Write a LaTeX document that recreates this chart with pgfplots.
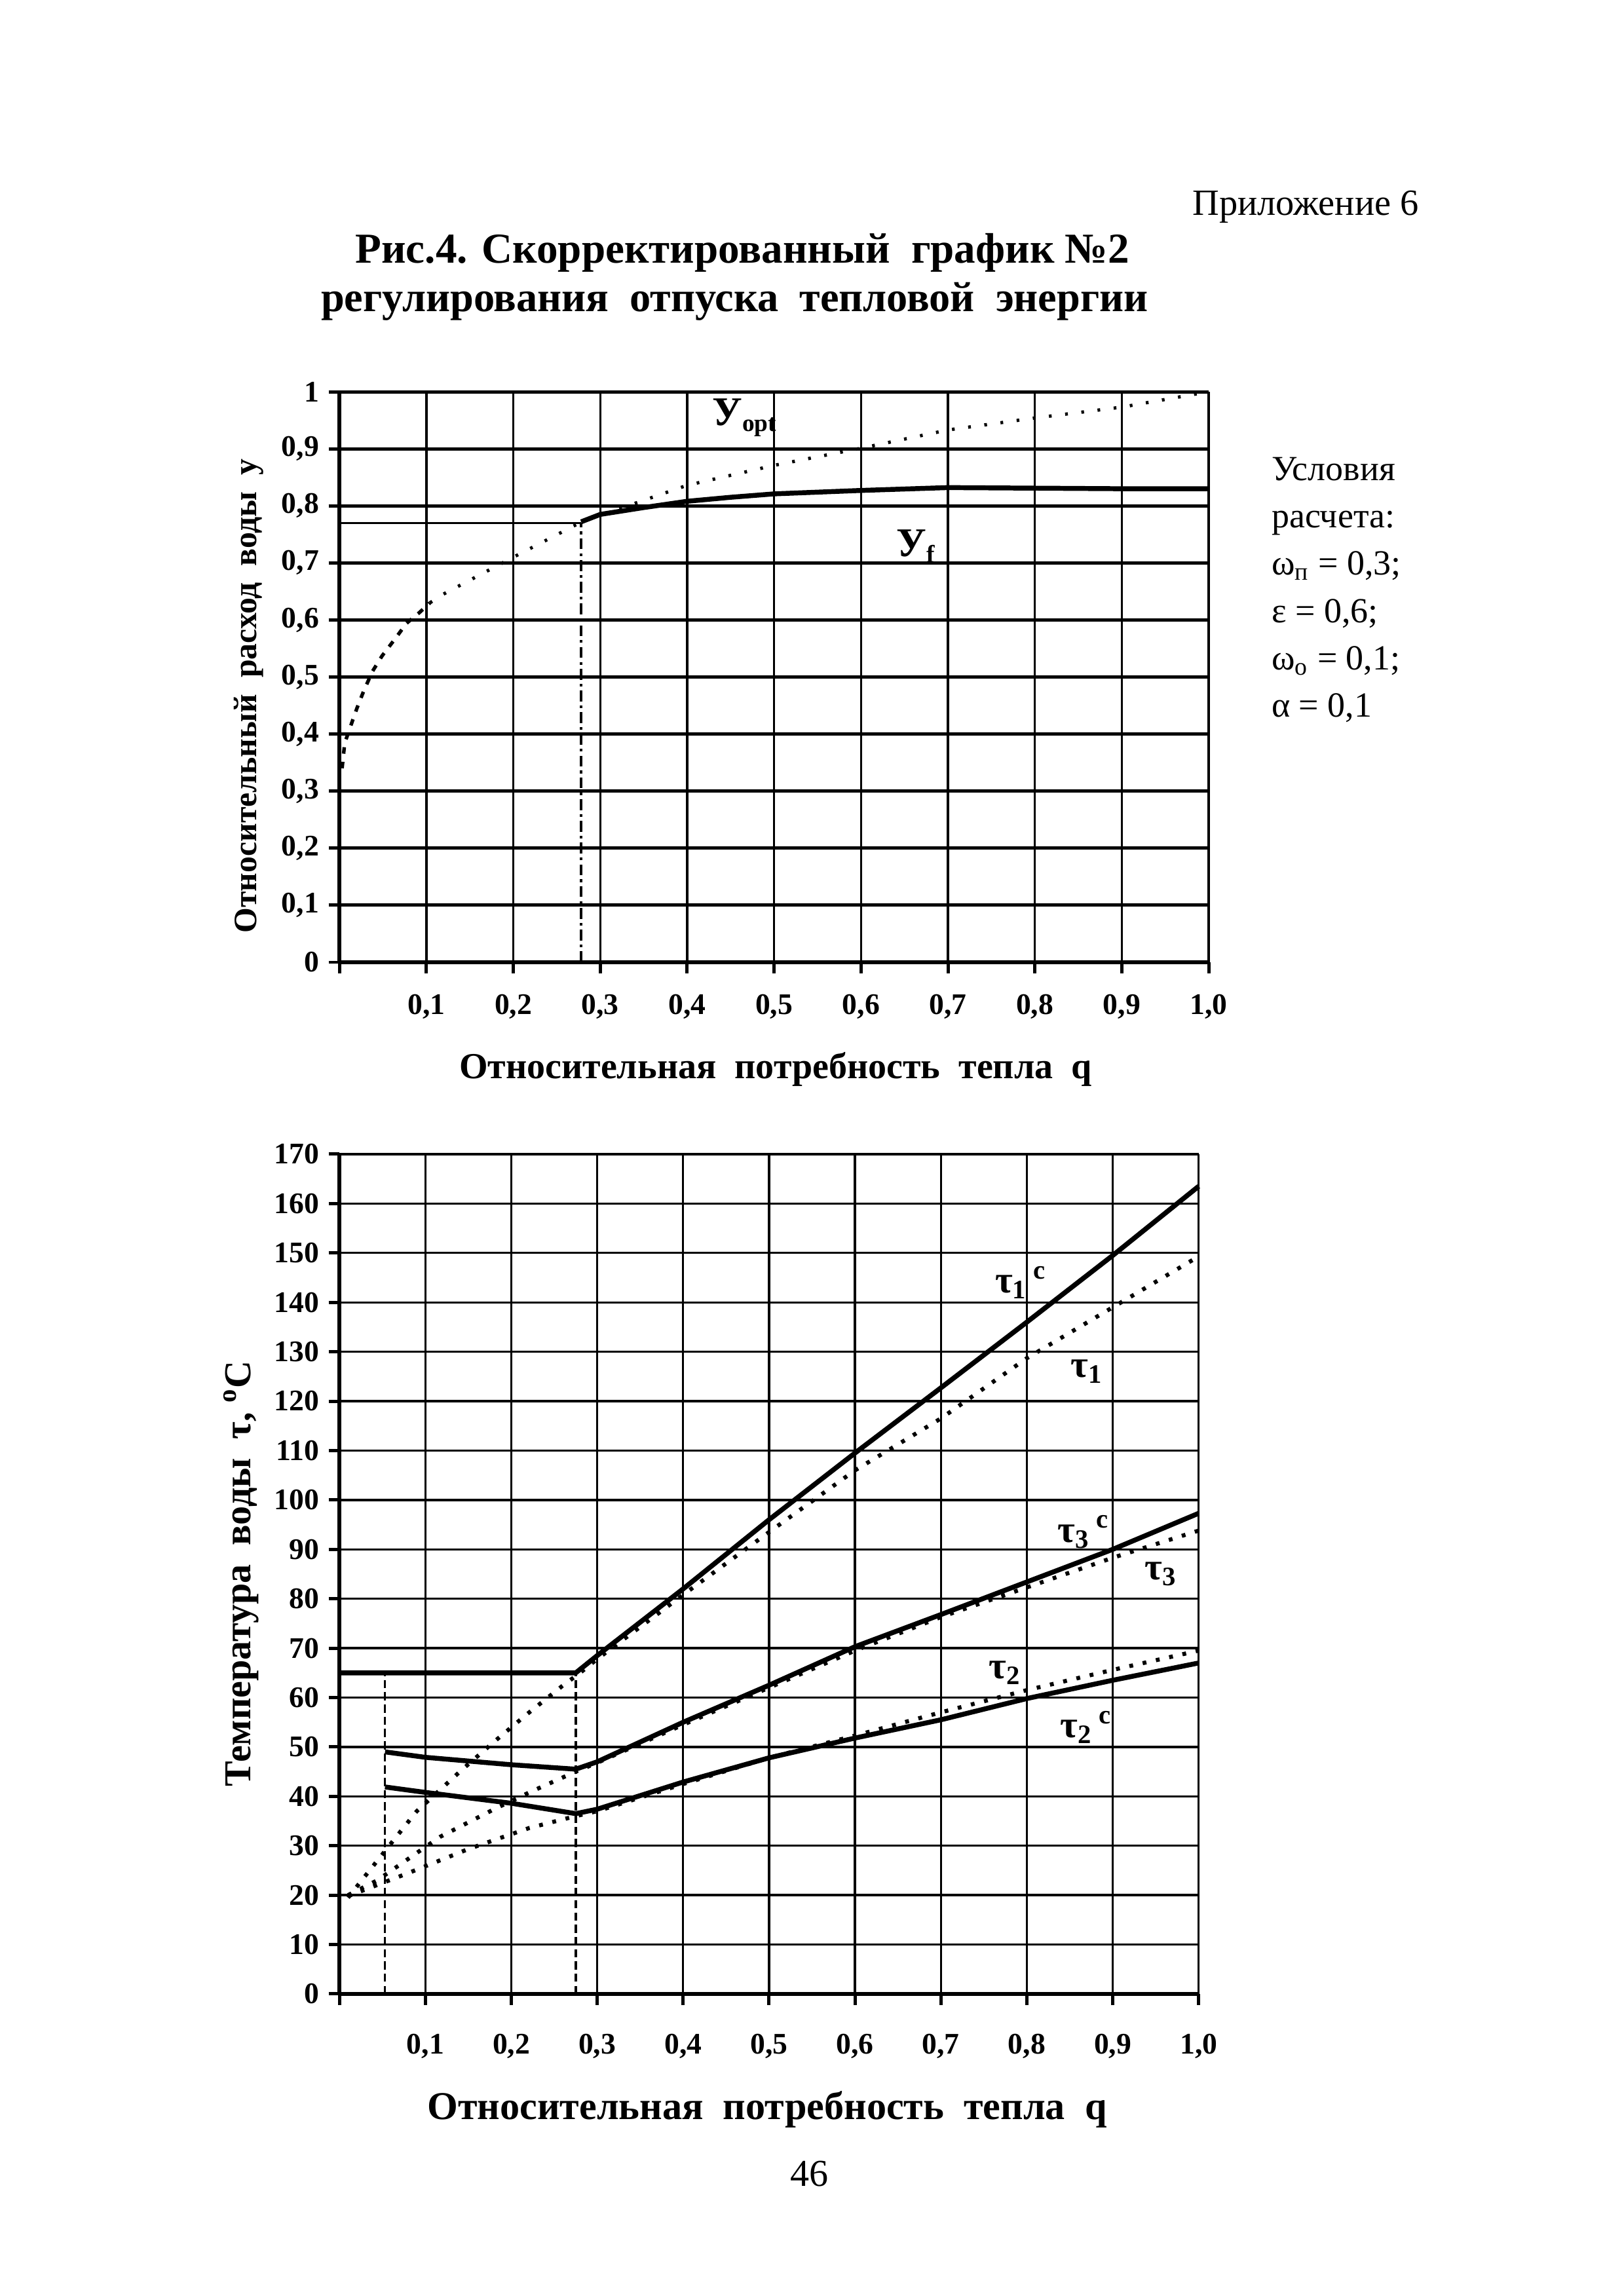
\documentclass[border=0pt]{standalone}
\usepackage{fontspec}
\setmainfont{Liberation Serif}
\usepackage{pgfplots}
\pgfplotsset{compat=1.18}

\pgfplotsset{
  chart/.style={
    scale only axis,
    axis lines=left,
    axis line style={-, line width=1.5pt},
    xmin=0, xmax=1,
    xtick={0,0.1,0.2,0.3,0.4,0.5,0.6,0.7,0.8,0.9,1},
    xticklabels={,{0,1},{0,2},{0,3},{0,4},{0,5},{0,6},{0,7},{0,8},{0,9},{1,0}},
    grid=major,
    major grid style={black, line width=0.8pt},
    tick align=outside,
    major tick length=0.14cm,
    tick style={black, line width=1.2pt},
    ticklabel style={font=\fontsize{11}{13}\selectfont\bfseries},
    /pgf/number format/assume math mode=true,
    clip=false,
  },
  thick curve/.style={black, line width=1.8pt, no markers},
  dot curve/.style={black, line width=1.5pt, dash pattern=on 1.4pt off 3.6pt, no markers},
}

\begin{document}
\begin{tikzpicture}
\path[use as bounding box] (0,0) rectangle (21,-29.641);

% page texts
\node[anchor=base east, font=\fontsize{13.6}{16}\selectfont] at (18.47,-2.78) {Приложение 6};
\node[anchor=base, font=\fontsize{15.7}{19}\selectfont\bfseries] at (9.6,-3.40) {Рис.4. Скорректированный\ \ график №2};
\node[anchor=base, font=\fontsize{15.5}{19}\selectfont\bfseries] at (9.5,-4.03) {регулирования\ \ отпуска\ \ тепловой\ \ энергии};

% top chart
\begin{axis}[chart,
  at={(4.39cm,-12.444cm)}, anchor=south west,
  width=11.24cm, height=7.378cm,
  ymin=0, ymax=1,
  ytick={0,0.1,0.2,0.3,0.4,0.5,0.6,0.7,0.8,0.9,1},
  yticklabels={0,{0,1},{0,2},{0,3},{0,4},{0,5},{0,6},{0,7},{0,8},{0,9},1},
  xticklabel style={yshift=-0.15cm},
  y grid style={line width=1.2pt},
]
% y_opt, dashed part
\addplot[black, line width=1.3pt, dash pattern=on 2.4pt off 3pt, no markers] coordinates {
  (0.003,0.34) (0.006,0.384) (0.014,0.419) (0.02,0.445) (0.028,0.476)
  (0.038,0.51) (0.049,0.537) (0.065,0.569) (0.077,0.594) (0.092,0.613) (0.104,0.63)
};
% y_opt, dotted part
\addplot[black, line width=1.2pt, dash pattern=on 1pt off 5pt, no markers] coordinates {
  (0.104,0.63) (0.118,0.644) (0.2,0.71) (0.28,0.773) (0.4,0.836) (0.5,0.871)
  (0.6,0.901) (0.7,0.933) (0.8,0.954) (0.9,0.973) (1.0,1.0)
};
% y_f
\addplot[black, line width=0.8pt, no markers] coordinates {(0,0.77) (0.278,0.77)};
\addplot[black, line width=0.8pt, dash pattern=on 4pt off 1.5pt on 1pt off 1.5pt, no markers] coordinates {(0.278,0) (0.278,0.77)};
\addplot[thick curve] coordinates {
  (0.278,0.772) (0.3,0.785) (0.35,0.797) (0.4,0.808) (0.45,0.815) (0.5,0.821)
  (0.6,0.827) (0.7,0.832) (0.8,0.831) (0.9,0.83) (1.0,0.83)
};
\node[anchor=west, font=\fontsize{15}{17}\selectfont\bfseries] at (axis cs:0.418,0.955) {У\textsubscript{\fontsize{9}{10}\selectfont opt}};
\node[anchor=west, font=\fontsize{15}{17}\selectfont\bfseries] at (axis cs:0.63,0.73) {У\textsubscript{\fontsize{9}{10}\selectfont f}};
\end{axis}

\node[rotate=90, font=\fontsize{12}{14}\selectfont\bfseries] at (3.22,-9.0) {Относительный\ \ расход\ \ воды\ \ у};
\node[anchor=base, font=\fontsize{13.5}{16}\selectfont\bfseries] at (10.03,-13.95) {Относительная\ \ потребность\ \ тепла\ \ q};

% conditions
\begin{scope}[every node/.style={anchor=base west, font=\fontsize{13}{16}\selectfont}]
\node at (16.32,-6.21) {Условия};
\node at (16.32,-6.823) {расчета:};
\node at (16.32,-7.436) {ω\textsubscript{п} = 0,3;};
\node at (16.32,-8.049) {ε = 0,6;};
\node at (16.32,-8.662) {ω\textsubscript{o} = 0,1;};
\node at (16.32,-9.275) {α = 0,1};
\end{scope}

% bottom chart
\begin{axis}[chart,
  at={(4.39cm,-25.786cm)}, anchor=south west,
  width=11.11cm, height=10.86cm,
  ymin=0, ymax=170,
  ytick={0,10,20,30,40,50,60,70,80,90,100,110,120,130,140,150,160,170},
  xticklabel style={yshift=-0.25cm},
]
% helper verticals
\addplot[black, line width=0.8pt, dash pattern=on 3pt off 1.5pt, no markers] coordinates {(0.053,0) (0.053,65)};
\addplot[black, line width=0.8pt, dash pattern=on 3pt off 1.5pt, no markers] coordinates {(0.275,0) (0.275,65)};
% tau1 (dotted) and tau1c (solid)
\addplot[dot curve] coordinates {
  (0.01,19.5) (0.035,25) (0.067,32) (0.09,37) (0.142,45.3) (0.181,51.2) (0.218,56.6)
  (0.259,62.3) (0.28,65) (0.3,67.8) (0.4,80.8) (0.5,93.5) (0.6,106) (0.7,116.5)
  (0.8,128.7) (0.9,139) (1.0,149.3)
};
\addplot[thick curve] coordinates {
  (0,65) (0.275,65) (0.3,68.5) (0.4,82) (0.5,96) (0.6,109.5) (0.7,122.7)
  (0.8,136) (0.9,149.5) (1.0,163.5)
};
% tau3 (dotted) and tau3c (solid)
\addplot[dot curve] coordinates {
  (0.01,20) (0.044,23) (0.117,31.8) (0.18,37.4) (0.221,40.8) (0.275,45) (0.3,46.8)
  (0.4,54.5) (0.5,62) (0.6,69.5) (0.7,76.3) (0.8,82.3) (0.9,88.3) (1.0,93.8)
};
\addplot[thick curve] coordinates {
  (0.053,49) (0.1,47.9) (0.2,46.4) (0.275,45.5) (0.3,47) (0.4,55) (0.5,62.5)
  (0.6,70.3) (0.7,76.8) (0.8,83.4) (0.9,90) (1.0,97.3)
};
% tau2 (dotted) and tau2c (solid)
\addplot[dot curve] coordinates {
  (0.01,19.8) (0.079,24.4) (0.151,29.4) (0.221,33.6) (0.275,36) (0.3,37) (0.4,42.5)
  (0.5,47.8) (0.6,52.3) (0.7,57) (0.8,61.5) (0.9,65.6) (1.0,69.5)
};
\addplot[thick curve] coordinates {
  (0.053,41.9) (0.1,40.8) (0.2,38.6) (0.275,36.5) (0.3,37.4) (0.4,42.9) (0.5,47.8)
  (0.6,51.8) (0.7,55.5) (0.8,59.8) (0.9,63.5) (1.0,67)
};
\begin{scope}[every node/.style={anchor=west, font=\fontsize{14}{16}\selectfont\bfseries}]
\node at (axis cs:0.752,144) {τ\textsubscript{1}\,\textsuperscript{c}};
\node at (axis cs:0.84,126) {τ\textsubscript{1}};
\node at (axis cs:0.825,93.5) {τ\textsubscript{3}\,\textsuperscript{c}};
\node at (axis cs:0.926,85) {τ\textsubscript{3}};
\node at (axis cs:0.745,65) {τ\textsubscript{2}};
\node at (axis cs:0.828,54) {τ\textsubscript{2}\,\textsuperscript{c}};
\end{scope}
\end{axis}

\node[rotate=90, font=\fontsize{14}{16}\selectfont\bfseries] at (3.12,-20.35) {Температура\ \ воды\ \ τ,\ \textsuperscript{o}С};
\node[anchor=base, font=\fontsize{14.5}{17}\selectfont\bfseries] at (9.92,-27.41) {Относительная\ \ потребность\ \ тепла\ \ q};
\node[anchor=base, font=\fontsize{14}{16}\selectfont] at (10.47,-28.27) {46};
\end{tikzpicture}
\end{document}
